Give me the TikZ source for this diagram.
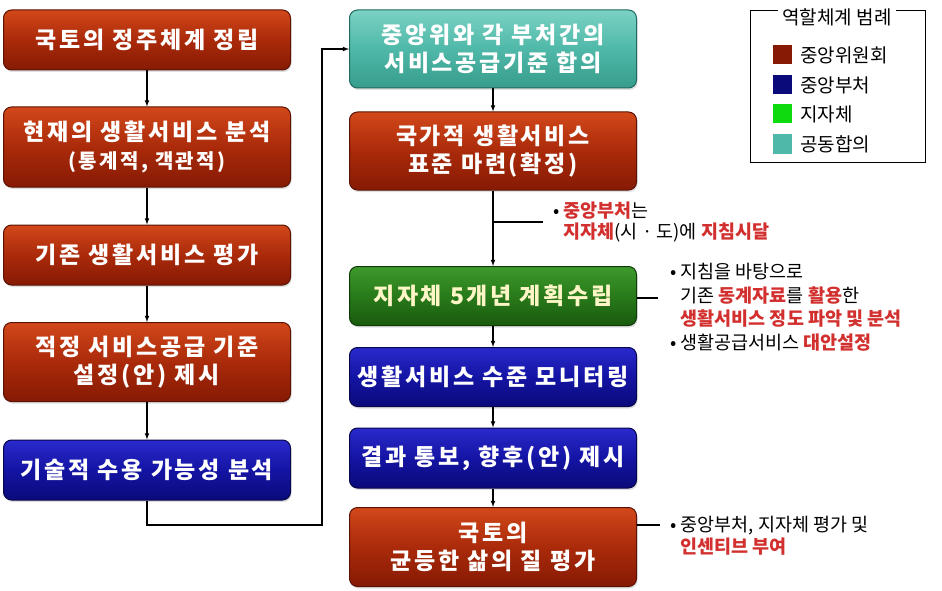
\documentclass[tikz,border=0pt]{standalone}
\usepackage{fontspec}
\setmainfont{Noto Sans CJK KR}
\newfontfamily\boxfont{Noto Sans CJK KR}[LetterSpace=12]
\usetikzlibrary{shadows}
\tikzset{>=latex}

\definecolor{redtop}{HTML}{D2481A}
\definecolor{redmid}{HTML}{AA2A0A}
\definecolor{redbot}{HTML}{861A04}
\definecolor{redline}{HTML}{5A1204}
\definecolor{bluetop}{HTML}{2A2ACC}
\definecolor{bluemid}{HTML}{1414A4}
\definecolor{bluebot}{HTML}{0A0A7A}
\definecolor{blueline}{HTML}{06064A}
\definecolor{greentop}{HTML}{3E9A2C}
\definecolor{greenmid}{HTML}{287A1A}
\definecolor{greenbot}{HTML}{1A5A0E}
\definecolor{greenline}{HTML}{0E3A08}
\definecolor{tealtop}{HTML}{7AD2C4}
\definecolor{tealmid}{HTML}{4FB8A8}
\definecolor{tealbot}{HTML}{379C8C}
\definecolor{tealline}{HTML}{1E6A5E}
\definecolor{notered}{HTML}{D2302E}
\definecolor{creamtext}{HTML}{FFF6C8}

\tikzset{
  flowbox/.style={rounded corners=8pt, minimum width=287pt, align=center,
    text=white, line width=1pt, inner sep=2pt,
    font=\fontsize{23}{28}\boxfont\bfseries,
    drop shadow={opacity=0.25, shadow xshift=1pt, shadow yshift=-2pt}},
  redbox/.style={flowbox, draw=redline, top color=redtop, bottom color=redbot, middle color=redmid},
  bluebox/.style={flowbox, draw=blueline, top color=bluetop, bottom color=bluebot, middle color=bluemid},
  greenbox/.style={flowbox, draw=greenline, top color=greentop, bottom color=greenbot, middle color=greenmid, text=creamtext},
  tealbox/.style={flowbox, draw=tealline, top color=tealtop, bottom color=tealbot, middle color=tealmid},
  link/.style={line width=1.1pt},
  note/.style={anchor=west, align=left, inner sep=0pt, font=\fontsize{18.5}{#1}\selectfont},
  legkey/.style={minimum size=19pt, inner sep=0pt},
  legtext/.style={anchor=west, inner sep=0pt, font=\fontsize{19}{23}\selectfont}
}
\newcommand{\redword}[1]{\textcolor{notered}{\bfseries #1}}

\begin{document}
\begin{tikzpicture}[x=1pt, y=-1pt]
    \useasboundingbox (0,0) rectangle (942,591);

    % left column
    \node[redbox, minimum height=60pt] (nat) at (147,40) {국토의 정주체계 정립};
    \node[redbox, minimum height=80pt] (cur) at (147,147) {현재의 생활서비스 분석\\{\fontsize{20}{24}\selectfont (통계적, 객관적)}};
    \node[redbox, minimum height=60pt] (eval) at (147,255) {기존 생활서비스 평가};
    \node[redbox, minimum height=79pt] (std) at (147,362) {적정 서비스공급 기준\\설정(안) 제시};
    \node[bluebox, minimum height=60pt] (tech) at (147,470) {기술적 수용 가능성 분석};

    % right column
    \node[tealbox, minimum height=78pt] (agree) at (493,49) {중앙위와 각 부처간의\\서비스공급기준 합의};
    \node[redbox, minimum height=78pt] (natstd) at (493,151) {국가적 생활서비스\\표준 마련(확정)};
    \node[greenbox, minimum height=59pt] (plan) at (493,296) {지자체 5개년 계획수립};
    \node[bluebox, minimum height=59pt] (moni) at (493,377) {생활서비스 수준 모니터링};
    \node[bluebox, minimum height=60pt] (report) at (493,458) {결과 통보, 향후(안) 제시};
    \node[redbox, minimum height=79pt] (qual) at (493,547) {국토의\\균등한 삶의 질 평가};

    \draw[link, ->] (nat) -- (cur);
    \draw[link, ->] (cur) -- (eval);
    \draw[link, ->] (eval) -- (std);
    \draw[link, ->] (std) -- (tech);
    \coordinate (turn) at (322,525);
    \draw[link, ->] (tech.south) |- (turn) |- (agree.west);
    \draw[link, ->] (agree) -- (natstd);
    \draw[link, ->] (natstd) -- (plan);
    \draw[link, ->] (plan) -- (moni);
    \draw[link, ->] (moni) -- (report);
    \draw[link, ->] (report) -- (qual);

    % side notes
    \coordinate (tip1) at (543,222);
    \coordinate (tip2) at (658,298);
    \coordinate (tip3) at (660,525);
    \draw[link] (natstd.south |- tip1) -- (tip1);
    \draw[link] (plan.east |- tip2) -- (tip2);
    \draw[link] (qual.east |- tip3) -- (tip3);

    \node[note=21] (memo1) at (553,222) {• \redword{중앙부처}는\\\hphantom{• }\redword{지자체}(시 · 도)에 \redword{지침시달}};
    \node[note=23.5] (memo2) at (670,307) {• 지침을 바탕으로\\\hphantom{• }기존 \redword{동계자료}를 \redword{활용}한\\\hphantom{• }\redword{생활서비스 정도 파악 및 분석}\\• 생활공급서비스 \redword{대안설정}};
    \node[note=22] (memo3) at (670,536) {• 중앙부처, 지자체 평가 및\\\hphantom{• }\redword{인센티브 부여}};

    % legend
    \draw[line width=0.8pt] (750,10) rectangle (925,162);
    \node[fill=white, inner xsep=4pt, font=\fontsize{19}{23}\selectfont] (legtitle) at (837,17) {역할체계 범례};
    \node[legkey, fill=redbot] (k1) at (782,55) {};
    \node[legkey, fill=bluebot] (k2) at (782,85) {};
    \node[legkey, fill=green!85!black!95] (k3) at (782,114) {};
    \node[legkey, fill=tealmid] (k4) at (782,144) {};
    \node[legtext] (t1) at (800,55) {중앙위원회};
    \node[legtext] (t2) at (800,85) {중앙부처};
    \node[legtext] (t3) at (800,114) {지자체};
    \node[legtext] (t4) at (800,144) {공동합의};

\end{tikzpicture}
\end{document}
